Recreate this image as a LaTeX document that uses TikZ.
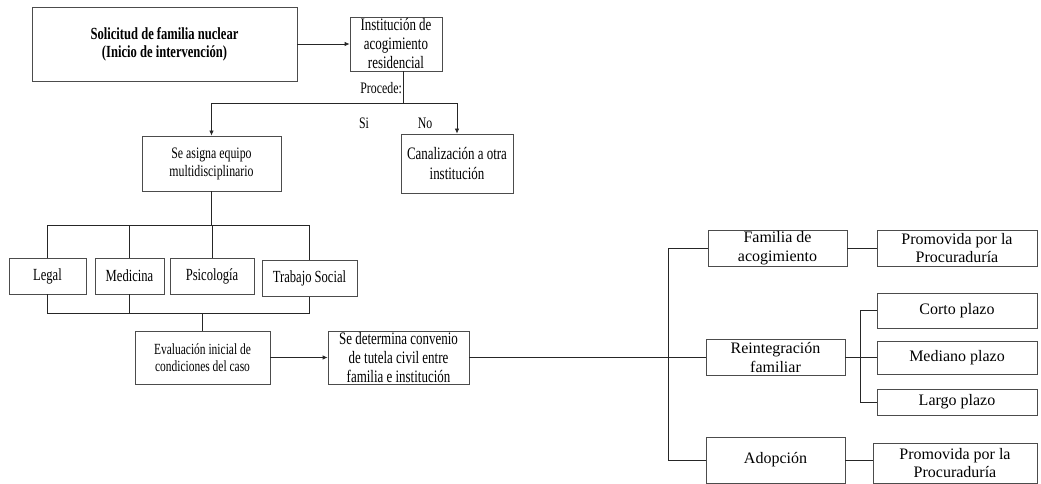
\documentclass[tikz,border=0pt]{standalone}
\usepackage{fontspec}
\setmainfont{Liberation Serif}
\newfontfamily\narrowfont[FakeStretch=0.74]{Liberation Serif}
\usetikzlibrary{arrows.meta}

\begin{document}
\begin{tikzpicture}[x=1pt, y=-1pt]
        % ================= Estilos =================
        \tikzset{
            box/.style={rectangle, draw=black!70, line width=0.8pt, inner sep=0pt, align=center, font=\fontsize{16}{18.5}\selectfont},
            narrowbox/.style={box, font=\narrowfont\fontsize{17}{19}\selectfont},
            link/.style={line width=0.8pt, black!85},
            arrowlink/.style={link, -{Latex[length=5pt, width=4.5pt]}},
            tag/.style={inner sep=0pt, font=\narrowfont\fontsize{16}{17}\selectfont}
        }
        \useasboundingbox (0,0) rectangle (1041,484);

        % ================= Inicio =================
        \node[narrowbox, minimum width=265pt, minimum height=74pt, font=\narrowfont\bfseries\fontsize{17}{18}\selectfont] (solicitud) at (164.5,44) {Solicitud de familia nuclear\\(Inicio de intervención)};
        \node[narrowbox, minimum width=92pt, minimum height=54pt, font=\narrowfont\fontsize{17.5}{19}\selectfont] (institucion) at (396,44) {Institución de\\acogimiento\\residencial};
        \draw[arrowlink] (solicitud) -- (institucion);

        % decisión: procede si / no
        \coordinate (procede) at (403,103);
        \draw[link] (institucion.south -| procede) -- (procede);
        \node[tag, anchor=east] (procedetxt) at (402,88) {Procede:};
        \node[narrowbox, minimum width=139pt, minimum height=55pt, font=\narrowfont\fontsize{16}{18}\selectfont] (equipo) at (211.5,163.5) {Se asigna equipo\\multidisciplinario};
        \node[narrowbox, minimum width=112pt, minimum height=59pt, font=\narrowfont\fontsize{17.5}{20}\selectfont] (canalizacion) at (457,163.5) {Canalización a otra\\institución};
        \draw[arrowlink] (procede) -| (equipo.north);
        \draw[arrowlink] (procede) -| (canalizacion.north);
        \node[tag] (si) at (364,123) {Si};
        \node[tag] (no) at (425,123) {No};

        % ================= Equipo multidisciplinario =================
        \coordinate (reparto) at (211.5,225);
        \coordinate (reunion) at (202.5,313);
        \draw[link] (equipo.south) -- (reparto);
        \foreach \name/\x/\y/\w/\txt in {legal/47.5/276/77/Legal, medicina/129.5/276/69/Medicina, psicologia/212/276/84/Psicología, trabajo/309.5/278.5/95/Trabajo Social} {
            \node[narrowbox, minimum width=\w pt, minimum height=36pt] (\name) at (\x,\y) {\txt};
            \draw[link] (reparto) -| (\name.north);
        }
        \draw[link] (legal.south) |- (reunion);
        \draw[link] (medicina.south) -- (medicina.south |- reunion);
        \draw[link] (trabajo.south) |- (reunion);

        \node[narrowbox, minimum width=135pt, minimum height=53pt, font=\narrowfont\fontsize{15.5}{17}\selectfont] (evaluacion) at (202.5,357.5) {Evaluación inicial de\\condiciones del caso};
        \draw[link] (reunion) -- (evaluacion.north);
        \node[narrowbox, minimum width=141pt, minimum height=53pt, font=\narrowfont\fontsize{17.5}{19.3}\selectfont] (convenio) at (398.5,357.5) {Se determina convenio\\de tutela civil entre\\familia e institución};
        \draw[arrowlink] (evaluacion) -- (convenio);

        % ================= Opciones de convenio =================
        \node[box, minimum width=139pt, minimum height=36pt] (familia) at (777.5,248) {Familia de\\acogimiento};
        \node[box, minimum width=139pt, minimum height=36pt] (reintegracion) at (775.5,357.5) {Reintegración\\familiar};
        \node[box, minimum width=139pt, minimum height=46pt] (adopcion) at (775.5,460) {Adopción};
        \node[box, minimum width=160pt, minimum height=36pt] (promovidaA) at (957,248) {Promovida por la\\Procuraduría};
        \node[box, minimum width=164pt, minimum height=40pt] (promovidaB) at (955,463) {Promovida por la\\Procuraduría};

        \coordinate (opciones) at (668,357.5);
        \draw[link] (convenio.east) -- (reintegracion.west);
        \draw[link] (opciones) |- (familia.west);
        \draw[link] (opciones) |- (adopcion.west);
        \draw[link] (familia) -- (promovidaA);
        \draw[link] (adopcion.east) -- (adopcion.east -| promovidaB.west);

        % plazos de reintegración
        \coordinate (plazos) at (860,357.5);
        \draw[link] (reintegracion.east) -- (plazos);
        \foreach \name/\y/\h/\txt in {corto/310.5/35/Corto plazo, mediano/357.5/33/Mediano plazo, largo/402/26/Largo plazo} {
            \node[box, minimum width=160pt, minimum height=\h pt] (\name) at (957,\y) {\txt};
            \draw[link] (plazos) |- (\name.west);
        }

    \end{tikzpicture}
\end{document}
